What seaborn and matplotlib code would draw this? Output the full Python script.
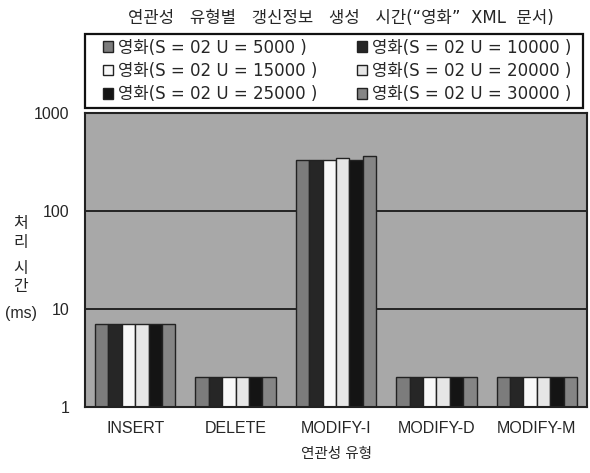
import matplotlib
matplotlib.use("Agg")
import matplotlib.pyplot as plt
from matplotlib.patches import Rectangle
import seaborn as sns
import pandas as pd
import numpy as np

categories = ["INSERT", "DELETE", "MODIFY-I", "MODIFY-D", "MODIFY-M"]
series = ["영화(S = 02 U = 5000 )", "영화(S = 02 U = 10000 )", "영화(S = 02 U = 15000 )",
          "영화(S = 02 U = 20000 )", "영화(S = 02 U = 25000 )", "영화(S = 02 U = 30000 )"]
u5000 = [7, 2, 330, 2, 2]
u10000 = [7, 2, 330, 2, 2]
u15000 = [7, 2, 330, 2, 2]
u20000 = [7, 2, 345, 2, 2]
u25000 = [7, 2, 335, 2, 2]
u30000 = [7, 2, 360, 2, 2]
values = [u5000, u10000, u15000, u20000, u25000, u30000]
colors = ["#7c7c7c", "#262626", "#f8f8f8", "#e6e6e6", "#141414", "#858585"]
yticks = [1, 10, 100, 1000]
title = "연관성   유형별   갱신정보   생성   시간(“영화”  XML  문서)"
xlabel = "연관성 유형"
ylabel_parts = ["처", "리", "시", "간", "(ms)"]

rows = []
for s, vals in zip(series, values):
    for c, v in zip(categories, vals):
        rows.append({"cat": c, "series": s, "val": v})
df = pd.DataFrame(rows)

sns.set_style("white")
plt.rcParams['font.family'] = ['Liberation Sans', 'Noto Sans CJK KR', 'DejaVu Sans']
wide = ['DejaVu Sans', 'Noto Sans CJK KR']

fig = plt.figure(figsize=(5.9, 4.73), dpi=100)
ax = fig.add_axes([0.144, 0.14, 0.851, 0.621])
ax.set_facecolor("#a8a8a8")
ax.set_yscale("log")
sns.barplot(data=df, x="cat", y="val", hue="series", hue_order=series,
            palette=colors, ax=ax, width=0.8, edgecolor="#222222", linewidth=1.0,
            saturation=1, legend=True)
ax.set_ylim(1, 1000)
ax.set_xlim(-0.5, 4.5)
ax.set_yticks(yticks)
ax.set_yticklabels([str(t) for t in yticks], fontsize=11.5)
ax.yaxis.set_minor_locator(matplotlib.ticker.NullLocator())
ax.tick_params(axis="x", labelsize=11.5, length=0, pad=10)
ax.tick_params(axis="y", length=0, pad=11)
for t in [10, 100]:
    ax.axhline(t, color="#1a1a1a", lw=1.3, zorder=0.5)
for sp in ax.spines.values():
    sp.set_color("#222222")
    sp.set_linewidth(1.5)
ax.set_xlabel(xlabel, fontsize=10.5, labelpad=8)
ax.set_ylabel("")

ypos = [223, 242, 268, 287, 313]
for txt, yp in zip(ylabel_parts, ypos):
    fig.text(21 / 590, 1 - yp / 473, txt, ha="center", va="center", fontsize=11.5)

handles, labels = ax.get_legend_handles_labels()
ax.get_legend().remove()
order = [0, 2, 4, 1, 3, 5]
leg = fig.legend([handles[i] for i in order], [labels[i] for i in order],
                 ncol=2, loc="center", bbox_to_anchor=(100 / 590, 1 - 108 / 473, 475 / 590, 74 / 473),
                 mode="expand", prop={"family": wide, "size": 12}, frameon=False,
                 handlelength=0.6, handleheight=0.6, handletextpad=0.3,
                 labelspacing=0.32, columnspacing=1.0, borderpad=0.2,
                 borderaxespad=0)
for h in leg.legend_handles:
    h.set_edgecolor("#222222")
fig.add_artist(Rectangle((85 / 590, 1 - 108 / 473), 498 / 590, 74 / 473,
                         transform=fig.transFigure, fill=False, edgecolor="#111111",
                         linewidth=1.6))
fig.text(0.577, 0.962, title, ha="center", va="center", fontsize=12, family=wide)
fig.savefig("out.png", dpi=100, facecolor="white")
